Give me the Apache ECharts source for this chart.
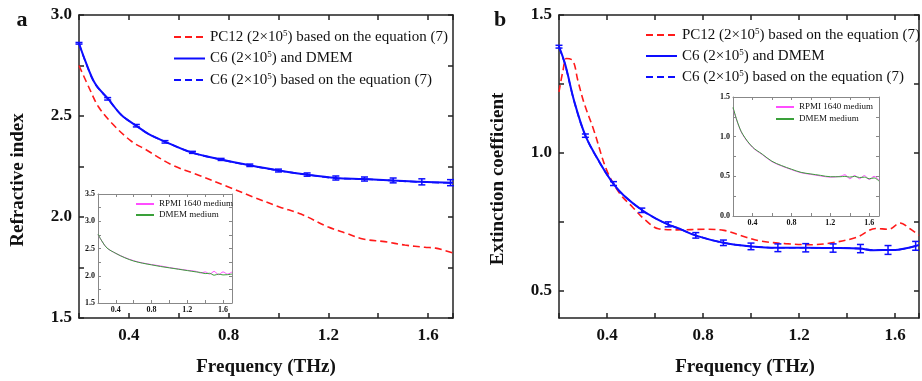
<!DOCTYPE html>
<html><head><meta charset="utf-8">
<script src="https://cdn.jsdelivr.net/npm/echarts@6/dist/echarts.min.js"></script>
<style>html,body{margin:0;padding:0;background:#fff}#c{width:922px;height:381px}</style>
</head><body><div id="c"></div>
<script>
// ---------- Panel a: refractive index ----------
const freqRedA = [0.2, 0.244, 0.278, 0.332, 0.41, 0.466, 0.574, 0.68, 0.797, 0.897, 1.004, 1.09, 1.2, 1.27, 1.339, 1.426, 1.507, 1.587, 1.63, 1.7];
const nRedA    = [2.75, 2.63, 2.546, 2.464, 2.375, 2.335, 2.257, 2.207, 2.15, 2.10, 2.05, 2.015, 1.95, 1.92, 1.891, 1.878, 1.861, 1.85, 1.846, 1.822];
const freqBlueA = [0.2, 0.224, 0.264, 0.318, 0.37, 0.432, 0.48, 0.54, 0.65, 0.77, 0.88, 1.0, 1.11, 1.23, 1.34, 1.46, 1.57, 1.7];
const nBlueA    = [2.86, 2.777, 2.662, 2.583, 2.505, 2.45, 2.41, 2.376, 2.32, 2.285, 2.257, 2.23, 2.21, 2.193, 2.188, 2.181, 2.174, 2.17];
const nBlueEqA  = [2.858, 2.775, 2.66, 2.582, 2.505, 2.45, 2.41, 2.375, 2.32, 2.284, 2.256, 2.23, 2.21, 2.192, 2.188, 2.18, 2.173, 2.168];
const errFreqA = [0.2, 0.315, 0.43, 0.545, 0.655, 0.77, 0.885, 1.0, 1.115, 1.23, 1.345, 1.46, 1.575, 1.69];
const errValA  = [2.86, 2.585, 2.452, 2.372, 2.32, 2.285, 2.256, 2.23, 2.21, 2.193, 2.188, 2.181, 2.174, 2.17];
const errBarA  = [0.004, 0.006, 0.006, 0.006, 0.005, 0.005, 0.006, 0.007, 0.008, 0.01, 0.01, 0.012, 0.015, 0.015];

// ---------- Panel b: extinction coefficient ----------
const freqRedB = [0.2, 0.217, 0.231, 0.258, 0.278, 0.305, 0.345, 0.399, 0.453, 0.506, 0.56, 0.614, 0.694, 0.807, 0.888, 0.955, 1.036, 1.143, 1.25, 1.344, 1.44, 1.52, 1.574, 1.621, 1.661, 1.7];
const kRedB    = [1.221, 1.30, 1.342, 1.334, 1.264, 1.179, 1.082, 0.936, 0.852, 0.803, 0.755, 0.724, 0.72, 0.722, 0.718, 0.70, 0.68, 0.67, 0.666, 0.674, 0.693, 0.725, 0.722, 0.745, 0.725, 0.70];
const freqBlueB = [0.2, 0.226, 0.264, 0.311, 0.372, 0.426, 0.47, 0.547, 0.606, 0.654, 0.713, 0.768, 0.885, 1.0, 1.112, 1.225, 1.339, 1.453, 1.51, 1.567, 1.614, 1.662, 1.7];
const kBlueB    = [1.385, 1.32, 1.185, 1.06, 0.961, 0.888, 0.845, 0.791, 0.76, 0.74, 0.72, 0.70, 0.673, 0.66, 0.655, 0.655, 0.654, 0.652, 0.646, 0.647, 0.648, 0.656, 0.665];
const kBlueEqB  = [1.383, 1.318, 1.184, 1.06, 0.96, 0.888, 0.845, 0.79, 0.76, 0.74, 0.72, 0.70, 0.673, 0.66, 0.655, 0.655, 0.654, 0.652, 0.646, 0.647, 0.648, 0.656, 0.665];
const errFreqB = [0.2, 0.31, 0.427, 0.545, 0.655, 0.77, 0.885, 1.0, 1.112, 1.228, 1.342, 1.456, 1.571, 1.686];
const errValB  = [1.385, 1.062, 0.888, 0.791, 0.74, 0.70, 0.673, 0.66, 0.655, 0.655, 0.654, 0.652, 0.647, 0.662];
const errBarB  = [0.005, 0.006, 0.007, 0.008, 0.009, 0.01, 0.01, 0.012, 0.014, 0.015, 0.015, 0.015, 0.016, 0.016];

// ---------- Insets: media ----------
const freqInset = [0.2, 0.25, 0.3, 0.4, 0.5, 0.6, 0.7, 0.8, 0.9, 1.0, 1.1, 1.2, 1.3, 1.35, 1.4, 1.45, 1.5, 1.55, 1.6, 1.65, 1.7];
const nDmemInset = [2.76, 2.62, 2.51, 2.41, 2.33, 2.27, 2.23, 2.2, 2.17, 2.145, 2.12, 2.095, 2.07, 2.06, 2.04, 2.045, 2.01, 2.03, 2.015, 2.02, 2.03];
const nRpmiInset = [2.75, 2.62, 2.51, 2.41, 2.335, 2.275, 2.235, 2.205, 2.18, 2.15, 2.125, 2.1, 2.08, 2.05, 2.07, 2.03, 2.08, 2.02, 2.07, 2.03, 2.07];
const kDmemInset = [1.37, 1.17, 1.03, 0.87, 0.78, 0.69, 0.635, 0.59, 0.55, 0.53, 0.512, 0.495, 0.495, 0.5, 0.49, 0.5, 0.485, 0.49, 0.47, 0.48, 0.44];
const kRpmiInset = [1.36, 1.165, 1.025, 0.865, 0.775, 0.685, 0.63, 0.585, 0.545, 0.525, 0.505, 0.49, 0.5, 0.52, 0.47, 0.51, 0.47, 0.51, 0.46, 0.50, 0.45];

// ---------- Text ----------
const legendLabels = {
  a_pc12: 'PC12 (2×10{sup|5}) based on the equation (7)',
  a_c6: 'C6 (2×10{sup|5}) and DMEM',
  a_c6eq: 'C6 (2×10{sup|5}) based on the equation (7)',
  b_pc12: 'PC12 (2×10{sup|5}) based on the equation (7)',
  b_c6: 'C6 (2×10{sup|5}) and DMEM',
  b_c6eq: 'C6 (2×10{sup|5}) based on the equation (7)',
  ia_rpmi: 'RPMI 1640 medium', ia_dmem: 'DMEM medium',
  ib_rpmi: 'RPMI 1640 medium', ib_dmem: 'DMEM medium'
};

const SERIF = '"Liberation Serif", "Times New Roman", serif';
const RED = '#ff1a1a', BLUE = '#0d0dff', MAG = '#ff4dff', GRN = '#3aa03a';

const zip = (xs, ys) => xs.map((x, i) => [x, ys[i]]);
const stepFmt = (step, minV) => v => {
  const r = Math.round(v / step);
  return (Math.abs(v - r * step) < 1e-6 && v >= minV - 1e-9) ? v.toFixed(1) : '';
};

function xAxis(grid, pos, main, showLabel) {
  const col = main ? '#222' : '#888';
  return {
    type: 'value', gridIndex: grid, position: pos, min: 0.2, max: 1.7, interval: 0.2,
    axisLine: { show: true, onZero: false, lineStyle: { color: col, width: main ? 1.5 : 1 } },
    axisTick: { show: true, inside: true, length: main ? 5 : 3, lineStyle: { color: col, width: main ? 1.5 : 1 } },
    axisLabel: { show: showLabel, interval: 0, formatter: stepFmt(0.4, 0.4), fontFamily: SERIF, fontWeight: 'bold',
      fontSize: main ? 17 : 8, color: '#111', margin: main ? 9 : 3 },
    splitLine: { show: false }
  };
}
function yAxis(grid, pos, main, showLabel, min, max, interval, labelStep, custom) {
  const col = main ? '#222' : '#888';
  const ax = {
    type: 'value', gridIndex: grid, position: pos, min: min, max: max,
    axisLine: { show: true, onZero: false, lineStyle: { color: col, width: main ? 1.5 : 1 } },
    axisTick: { show: true, inside: true, length: main ? 5 : 3, lineStyle: { color: col, width: main ? 1.5 : 1 } },
    axisLabel: { show: showLabel, interval: 0, formatter: stepFmt(labelStep, min), fontFamily: SERIF, fontWeight: 'bold',
      fontSize: main ? 17 : 8, color: '#111', margin: main ? 7 : 3 },
    splitLine: { show: false }
  };
  if (custom) {
    ax.axisTick.customValues = custom.ticks;
    ax.axisLabel.customValues = custom.labels;
    ax.axisLabel.formatter = v => v.toFixed(1);
  } else {
    ax.interval = interval;
  }
  return ax;
}

function errSeries(name, xi, yi, xs, ys, es) {
  return {
    name: name, type: 'custom', xAxisIndex: xi, yAxisIndex: yi, z: 4,
    data: xs.map((x, i) => [x, ys[i] - es[i], ys[i] + es[i]]),
    encode: { x: 0, y: [1, 2] },
    renderItem: (params, api) => {
      const x = api.value(0);
      const lo = api.coord([x, api.value(1)]);
      const hi = api.coord([x, api.value(2)]);
      const w = 3.5;
      const st = { stroke: BLUE, lineWidth: 1.5 };
      return { type: 'group', children: [
        { type: 'line', shape: { x1: lo[0], y1: lo[1], x2: hi[0], y2: hi[1] }, style: st },
        { type: 'line', shape: { x1: lo[0] - w, y1: lo[1], x2: lo[0] + w, y2: lo[1] }, style: st },
        { type: 'line', shape: { x1: hi[0] - w, y1: hi[1], x2: hi[0] + w, y2: hi[1] }, style: st }
      ]};
    }
  };
}
function line(name, xi, yi, data, color, type, width, z) {
  return { name: name, type: 'line', xAxisIndex: xi, yAxisIndex: yi, data: data, showSymbol: false, symbol: 'none',
    smooth: 0.35, z: z || 2, lineStyle: { color: color, type: type, width: width }, itemStyle: { color: color } };
}
function legend(left, top, names, fontSize, itemW, gap, lh) {
  return {
    left: left, top: top, orient: 'vertical', padding: 0, itemWidth: itemW, itemHeight: 8, itemGap: gap, selectedMode: false,
    itemStyle: { opacity: 0 }, data: names, formatter: n => legendLabels[n],
    textStyle: { fontFamily: SERIF, fontSize: fontSize, color: '#111', lineHeight: lh, padding: [0, 0, 0, 0],
      rich: { sup: { fontFamily: SERIF, fontSize: 9, verticalAlign: 'top', lineHeight: 9, color: '#111' } } }
  };
}

const option = {
  animation: false,
  backgroundColor: '#fff',
  grid: [
    { left: 79, top: 15, width: 374, height: 303 },
    { left: 559, top: 15, width: 373, height: 303 },
    { left: 98, top: 194, width: 134, height: 109 },
    { left: 733, top: 97, width: 146, height: 119 }
  ],
  xAxis: [
    xAxis(0, 'bottom', true, true), xAxis(0, 'top', true, false),
    xAxis(1, 'bottom', true, true), xAxis(1, 'top', true, false),
    xAxis(2, 'bottom', false, true), xAxis(2, 'top', false, false),
    xAxis(3, 'bottom', false, true), xAxis(3, 'top', false, false)
  ],
  yAxis: [
    yAxis(0, 'left', true, true, 1.5, 3.0, 0.25, 0.5), yAxis(0, 'right', true, false, 1.5, 3.0, 0.25, 0.5),
    yAxis(1, 'left', true, true, 0.4, 1.5, null, 0.5, { ticks: [0.5, 0.75, 1.0, 1.25, 1.5], labels: [0.5, 1.0, 1.5] }),
    yAxis(1, 'right', true, false, 0.4, 1.5, null, 0.5, { ticks: [0.5, 0.75, 1.0, 1.25, 1.5], labels: [0.5, 1.0, 1.5] }),
    yAxis(2, 'left', false, true, 1.5, 3.5, 0.25, 0.5), yAxis(2, 'right', false, false, 1.5, 3.5, 0.25, 0.5),
    yAxis(3, 'left', false, true, 0.0, 1.5, 0.25, 0.5), yAxis(3, 'right', false, false, 0.0, 1.5, 0.25, 0.5)
  ],
  legend: [
    legend(173, 29, ['a_pc12', 'a_c6', 'a_c6eq'], 15, 31, 5.5, 16),
    legend(645, 27, ['b_pc12', 'b_c6', 'b_c6eq'], 15, 31, 5, 16),
    legend(135, 199, ['ia_rpmi', 'ia_dmem'], 9, 18, 1, 10),
    legend(775, 102, ['ib_rpmi', 'ib_dmem'], 9, 18, 2, 10)
  ],
  series: [
    line('a_pc12', 0, 0, zip(freqRedA, nRedA), RED, [7, 4], 1.6),
    line('a_c6eq', 0, 0, zip(freqBlueA, nBlueEqA), BLUE, [7, 4], 1.6),
    line('a_c6', 0, 0, zip(freqBlueA, nBlueA), BLUE, 'solid', 2, 3),
    errSeries('a_err', 0, 0, errFreqA, errValA, errBarA),
    line('b_pc12', 2, 2, zip(freqRedB, kRedB), RED, [7, 4], 1.6),
    line('b_c6eq', 2, 2, zip(freqBlueB, kBlueEqB), BLUE, [7, 4], 1.6),
    line('b_c6', 2, 2, zip(freqBlueB, kBlueB), BLUE, 'solid', 2, 3),
    errSeries('b_err', 2, 2, errFreqB, errValB, errBarB),
    line('ia_rpmi', 4, 4, zip(freqInset, nRpmiInset), MAG, 'solid', 1),
    line('ia_dmem', 4, 4, zip(freqInset, nDmemInset), GRN, 'solid', 1, 3),
    line('ib_rpmi', 6, 6, zip(freqInset, kRpmiInset), MAG, 'solid', 1),
    line('ib_dmem', 6, 6, zip(freqInset, kDmemInset), GRN, 'solid', 1, 3)
  ],
  graphic: [
    { type: 'text', x: 22, y: 20, style: { text: 'a', font: 'bold 22px ' + SERIF, fill: '#111', align: 'center', verticalAlign: 'middle' } },
    { type: 'text', x: 500, y: 20, style: { text: 'b', font: 'bold 22px ' + SERIF, fill: '#111', align: 'center', verticalAlign: 'middle' } },
    { type: 'text', x: 18, y: 180, rotation: Math.PI / 2, style: { text: 'Refractive index', font: 'bold 19px ' + SERIF, fill: '#111', align: 'center', verticalAlign: 'middle' } },
    { type: 'text', x: 498, y: 179, rotation: Math.PI / 2, style: { text: 'Extinction coefficient', font: 'bold 19px ' + SERIF, fill: '#111', align: 'center', verticalAlign: 'middle' } },
    { type: 'text', x: 266, y: 367, style: { text: 'Frequency (THz)', font: 'bold 19px ' + SERIF, fill: '#111', align: 'center', verticalAlign: 'middle' } },
    { type: 'text', x: 745, y: 367, style: { text: 'Frequency (THz)', font: 'bold 19px ' + SERIF, fill: '#111', align: 'center', verticalAlign: 'middle' } }
  ]
};
const chart = echarts.init(document.getElementById('c'), null, { renderer: 'canvas' });
chart.setOption(option);
</script></body></html>
